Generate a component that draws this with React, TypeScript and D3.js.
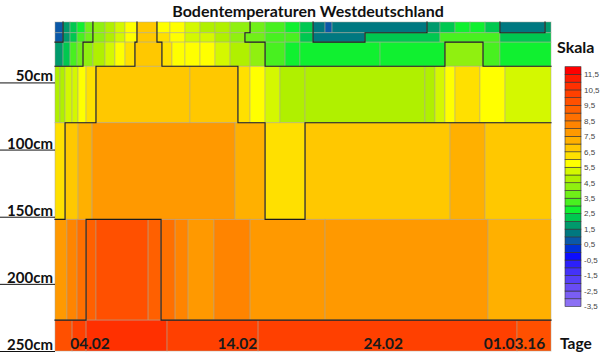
import React from 'react';
import * as d3 from 'd3';

// ---- data ----
const DAY_MAX = 34; // days shown (from 01.02.2016)
const ROW_DEPTHS = [5, 13, 20, 38, 80, 152, 227, 250]; // cm, boundaries of the measured layers

const R1_BREAKS = [0, 0.55, 1.03, 1.51, 2.06, 2.6, 3.43, 4.11, 4.8, 5.62, 6.99, 7.88, 8.91, 9.94, 10.97, 12.0, 13.37, 14.4, 15.77, 16.79, 17.69, 18.51, 18.99, 25.5, 26.39, 27.42, 28.45, 29.48, 30.5, 33.59, 34];
const R1_VALUES = [0.7, 1.8, 2.3, 2.9, 3.5, 4.3, 4.8, 5.3, 5.8, 6.7, 5.9, 5.6, 5.2, 4.9, 4.6, 4.2, 3.6, 3.3, 2.9, 2.4, 1.2, 0.7, 1.2, 1.8, 2.3, 2.7, 2.8, 2.3, 1.2, 1.8];

const R2_BREAKS = [0, 0.55, 1.03, 1.51, 2.06, 2.6, 3.43, 4.11, 4.8, 5.62, 6.99, 7.88, 8.91, 9.94, 10.97, 12.0, 13.02, 14.4, 15.77, 16.79, 17.69, 21.25, 26.39, 30.5, 34];
const R2_VALUES = [0.7, 1.9, 2.4, 3.0, 3.6, 4.4, 4.9, 5.4, 5.9, 6.7, 6.0, 5.7, 5.3, 5.0, 4.7, 4.3, 3.7, 3.4, 3.0, 2.4, 1.2, 2.1, 3.0, 2.2];

const R3_BREAKS = [0, 0.55, 1.03, 1.51, 1.92, 2.6, 3.43, 4.11, 4.8, 5.48, 7.33, 8.02, 8.91, 9.94, 10.97, 12.0, 13.37, 14.4, 15.77, 16.79, 22.28, 26.73, 29.34, 30.5, 34];
const R3_VALUES = [1.9, 2.4, 3.2, 3.7, 4.3, 4.8, 5.2, 5.7, 6.2, 6.7, 6.2, 5.8, 5.6, 5.6, 5.1, 4.8, 4.4, 3.3, 2.9, 2.7, 2.9, 4.3, 3.3, 2.7];

const R4_BREAKS = [0, 0.34, 0.69, 1.17, 1.58, 2.13, 2.81, 9.25, 12.54, 13.37, 14.4, 15.42, 17.14, 25.36, 26.05, 26.73, 27.42, 29.13, 30.85, 34];
const R4_VALUES = [4.7, 4.9, 5.2, 5.4, 5.7, 6.2, 6.8, 6.7, 6.2, 5.7, 5.2, 4.8, 4.7, 4.9, 5.2, 5.7, 6.2, 5.7, 5.2];

const R5_BREAKS = [0, 0.69, 1.58, 2.54, 12.34, 14.4, 17.14, 27.08, 29.48, 34];
const R5_VALUES = [6.2, 6.8, 7.2, 7.7, 7.2, 6.2, 6.8, 7.2, 6.8];

const R6_BREAKS = [0, 0.82, 1.51, 2.13, 2.81, 6.38, 7.27, 8.23, 9.12, 10.9, 13.37, 18.51, 29.68, 34];
const R6_VALUES = [7.7, 8.2, 8.7, 9.4, 9.9, 9.4, 8.6, 8.1, 7.7, 8.2, 7.7, 7.6, 7.2];

const R7_BREAKS = [0, 1.17, 2.13, 7.68, 13.92, 31.67, 34];
const R7_VALUES = [9.8, 10.2, 10.6, 10.3, 10.2, 9.7];

const CONTOUR_LEVELS = [1.5, 4, 6.5, 9];

const DEPTH_TICKS = [50, 100, 150, 200, 250];
const DEPTH_LABELS = ['50cm', '100cm', '150cm', '200cm', '250cm'];
const DATE_LABELS = ['04.02', '14.02', '24.02', '01.03.16'];
const DATE_LABEL_DAYS = [2.4, 12.5, 22.5, 31.5];

const LEGEND_LABELS = [11.5, 10.5, 9.5, 8.5, 7.5, 6.5, 5.5, 4.5, 3.5, 2.5, 1.5, 0.5, -0.5, -1.5, -2.5, -3.5];
const LEVEL_MIN = -3.5;
const LEVEL_MAX = 12;
const LEVEL_STEP = 0.5;
const LEVEL_COLORS = [
  '#8c70f4', '#7a5ef4', '#684cf4', '#5640f6', '#4432f8', '#2c20fb', '#0c0cff', '#0030d8',
  '#0a58a8', '#007880', '#009a6c', '#00c850', '#10f030', '#48f020', '#70f018', '#90f010',
  '#b0f000', '#d4f800', '#ffff00', '#ffe000', '#ffc800', '#ffb000', '#ff9900', '#ff8400',
  '#ff7000', '#ff6000', '#ff5000', '#ff4000', '#ff3000', '#ff1c00', '#ff0000',
];

const FONT = "Lato, 'Open Sans', Arial, sans-serif";

type Row = { top: number; bottom: number; breaks: number[]; values: number[] };

const ROWS: Row[] = [
  [R1_BREAKS, R1_VALUES], [R2_BREAKS, R2_VALUES], [R3_BREAKS, R3_VALUES], [R4_BREAKS, R4_VALUES],
  [R5_BREAKS, R5_VALUES], [R6_BREAKS, R6_VALUES], [R7_BREAKS, R7_VALUES],
].map(([b, v], i) => ({ top: ROW_DEPTHS[i], bottom: ROW_DEPTHS[i + 1], breaks: b as number[], values: v as number[] }));

function valueAt(row: Row, t: number) {
  for (let i = 0; i < row.values.length; i++) {
    if (t >= row.breaks[i] && t < row.breaks[i + 1]) return row.values[i];
  }
  return row.values[row.values.length - 1];
}

function contourSegments(level: number) {
  const segs: [number, number, number, number][] = []; // day1, depth1, day2, depth2
  const above = (v: number) => v >= level;
  ROWS.forEach((row) => {
    for (let i = 1; i < row.values.length; i++) {
      if (above(row.values[i - 1]) !== above(row.values[i])) {
        segs.push([row.breaks[i], row.top, row.breaks[i], row.bottom]);
      }
    }
  });
  for (let r = 0; r < ROWS.length - 1; r++) {
    const a = ROWS[r], b = ROWS[r + 1];
    const all = Array.from(new Set([...a.breaks, ...b.breaks])).sort((p, q) => p - q);
    for (let i = 0; i < all.length - 1; i++) {
      const mid = (all[i] + all[i + 1]) / 2;
      if (above(valueAt(a, mid)) !== above(valueAt(b, mid))) {
        segs.push([all[i], a.bottom, all[i + 1], a.bottom]);
      }
    }
  }
  return segs;
}

export default function App() {
  const W = 600, H = 353;
  const x = d3.scaleLinear().domain([0, DAY_MAX]).range([55, 551]);
  const y = d3.scaleLinear().domain([ROW_DEPTHS[0], ROW_DEPTHS[ROW_DEPTHS.length - 1]]).range([22, 351]);
  const levels = d3.range(LEVEL_MIN, LEVEL_MAX - 1e-9, LEVEL_STEP);
  const color = d3.scaleThreshold<number, string>().domain(levels.slice(1)).range(LEVEL_COLORS);
  const ly = d3.scaleLinear().domain([LEVEL_MIN, LEVEL_MAX]).range([306.5, 66.7]);

  const cells: React.ReactElement[] = [];
  ROWS.forEach((row, ri) => {
    row.values.forEach((v, i) => {
      cells.push(
        <rect key={`c${ri}-${i}`} x={x(row.breaks[i])} y={y(row.top)}
          width={x(row.breaks[i + 1]) - x(row.breaks[i])} height={y(row.bottom) - y(row.top)}
          fill={color(v)} stroke="rgba(170,165,150,0.55)" strokeWidth={0.9} />
      );
    });
  });

  const contourPaths = CONTOUR_LEVELS.map((lv) => {
    const p = d3.path();
    contourSegments(lv).forEach(([d1, z1, d2, z2]) => {
      p.moveTo(x(d1), y(z1));
      p.lineTo(x(d2), y(z2));
    });
    return <path key={`k${lv}`} d={p.toString()} fill="none" stroke="#1c1c1c" strokeWidth={1.1} strokeLinecap="square" />;
  });

  return (
    <svg width={W} height={H} style={{ position: 'absolute', left: 0, top: 0, background: '#fff' }} fontFamily={FONT}>
      <text x={308} y={17} textAnchor="middle" fontSize={16} fontWeight="bold" fill="#111">Bodentemperaturen Westdeutschland</text>
      <g>{cells}</g>
      <g>{contourPaths}</g>
      {DEPTH_TICKS.map((d, i) => (
        <g key={`t${d}`}>
          <line x1={0} x2={55} y1={y(d) + 0.5} y2={y(d) + 0.5} stroke="#111" strokeWidth={1} />
          <text x={53} y={y(d) - 1} textAnchor="end" fontSize={15} fontWeight="bold" fill="#111">{DEPTH_LABELS[i]}</text>
        </g>
      ))}
      {DATE_LABELS.map((s, i) => (
        <text key={s} x={x(DATE_LABEL_DAYS[i])} y={349} textAnchor="middle" fontSize={15.5} fontWeight="bold" fill="#1a1a1a">{s}</text>
      ))}
      <text x={560} y={349} fontSize={15.5} fontWeight="bold" fill="#111">Tage</text>
      <text x={557} y={53} fontSize={16} fontWeight="bold" fill="#111">Skala</text>
      <g>
        {levels.map((lv, i) => (
          <rect key={`l${i}`} x={565} y={ly(lv + LEVEL_STEP)} width={16} height={ly(lv) - ly(lv + LEVEL_STEP)}
            fill={LEVEL_COLORS[i]} stroke="#333" strokeWidth={0.6} />
        ))}
        {LEGEND_LABELS.map((v) => (
          <text key={`ll${v}`} x={584} y={ly(v)} dy="0.35em" fontSize={8} fill="#444" fontFamily="Arial, 'Liberation Sans', sans-serif">
            {String(v).replace('.', ',')}
          </text>
        ))}
      </g>
    </svg>
  );
}
